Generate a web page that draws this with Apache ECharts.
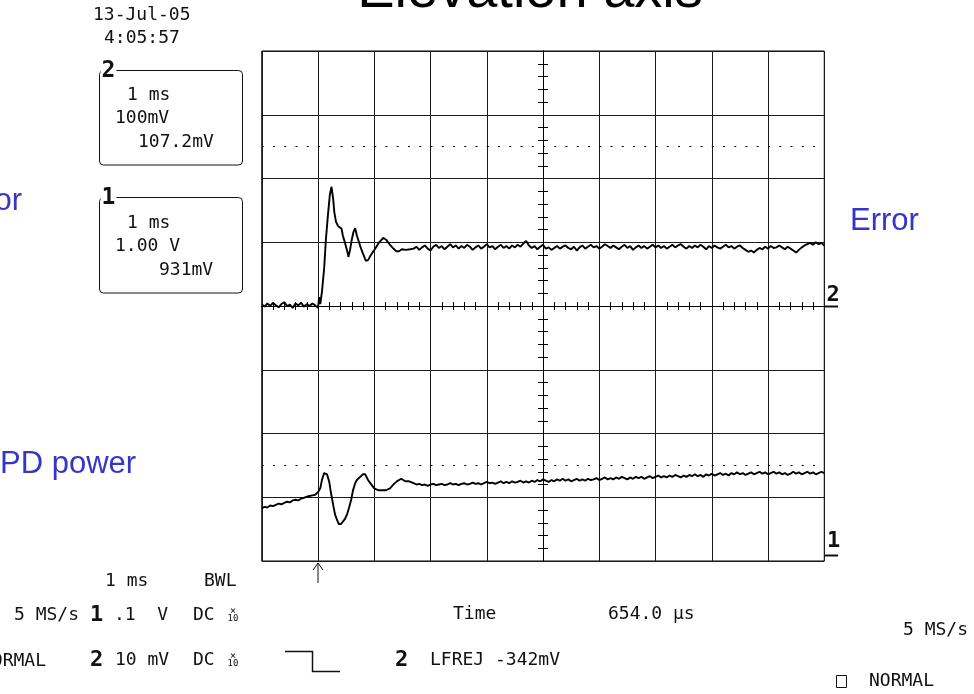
<!DOCTYPE html>
<html>
<head>
<meta charset="utf-8">
<script src="https://cdn.jsdelivr.net/npm/echarts@6/dist/echarts.min.js"></script>
<style>
html,body{margin:0;padding:0;background:#fff;}
#chart{width:974px;height:694px;}
</style>
</head>
<body>
<div id="chart"></div>
<script>
// ---- axis settings (time in ms after trigger, amplitude in screen divisions) ----
const timeRange = [-1, 9];
const divRange = [-4, 4];
const sampleStep = 0.05;           // ms between stored samples in the flat segments
const refLevels = [2.5, -2.5];     // dotted reference levels (divisions)

// ---- Channel 2 : Error ----
const errPreStart = -1.00;
const errPreV = [0.03,-0.01,0.04,0.00,0.05,0.01,-0.02,0.03,0.06,0.00,0.02,-0.03,0.04,0.01,0.05,-0.01,0.03,0.00,0.04,0.01];
const errTransT = [0.00,0.02,0.04,0.07,0.11,0.14,0.18,0.21,0.24,0.27,0.29,0.32,0.36,0.39,0.42,0.44,0.48,0.52,0.54,0.57,0.60,0.63,0.66,0.69,0.75,0.80,0.85,0.89,0.94,1.01,1.08,1.16,1.21,1.28,1.33,1.39,1.44,1.49,1.56,1.64];
const errTransV = [-0.03,0.14,0.03,0.22,0.60,1.04,1.46,1.74,1.87,1.68,1.47,1.32,1.25,1.25,1.21,1.11,0.99,0.86,0.77,0.88,1.04,1.16,1.22,1.11,0.94,0.82,0.71,0.72,0.80,0.89,0.99,1.07,1.04,0.96,0.91,0.86,0.86,0.89,0.88,0.89];
const errTailStart = 1.70;
const errTailV = [
0.90,0.93,0.88,0.92,0.95,0.90,0.87,0.93,0.96,0.91,
0.94,0.89,0.93,0.97,0.92,0.95,0.90,0.94,0.91,0.96,
0.93,0.88,0.92,0.95,0.90,0.93,0.97,0.92,0.94,0.89,
0.93,0.96,0.91,0.94,0.90,0.95,0.92,0.96,0.93,0.98,
1.02,0.95,0.91,0.94,0.89,0.93,0.96,0.90,0.92,0.88,
0.91,0.94,0.90,0.93,0.95,0.91,0.89,0.93,0.87,0.92,
0.95,0.90,0.93,0.96,0.92,0.94,0.90,0.93,0.97,0.94,
0.91,0.95,0.92,0.89,0.93,0.96,0.91,0.94,0.88,0.92,
0.95,0.91,0.94,0.90,0.93,0.96,0.92,0.95,0.91,0.94,
0.90,0.93,0.96,0.92,0.95,0.97,0.93,0.90,0.94,0.91,
0.95,0.92,0.96,0.93,0.89,0.94,0.91,0.95,0.92,0.90,
0.93,0.96,0.92,0.94,0.90,0.93,0.95,0.91,0.88,0.85,
0.87,0.84,0.88,0.91,0.89,0.93,0.90,0.94,0.91,0.92,
0.95,0.92,0.89,0.93,0.90,0.87,0.84,0.88,0.92,0.95,
0.97,0.99,0.96,1.00,0.97,0.99,0.95];

// ---- Channel 1 : PD power ----
const pdPreStart = -1.00;
const pdPreV = [-3.17,-3.15,-3.16,-3.13,-3.14,-3.12,-3.10,-3.11,-3.09,-3.07,-3.08,-3.05,-3.04,-3.05,-3.02,-3.01,-2.99,-2.98,-2.97,-2.96];
const pdTransT = [0.00,0.04,0.07,0.11,0.13,0.16,0.20,0.23,0.27,0.30,0.34,0.37,0.41,0.44,0.48,0.52,0.55,0.59,0.62,0.66,0.69,0.75,0.80,0.84,0.89,0.94,1.00,1.07,1.14,1.21,1.28,1.33,1.40,1.48,1.55,1.62];
const pdTransV = [-2.92,-2.86,-2.73,-2.62,-2.59,-2.64,-2.76,-2.93,-3.12,-3.26,-3.36,-3.42,-3.42,-3.39,-3.34,-3.26,-3.17,-3.04,-2.90,-2.78,-2.73,-2.68,-2.64,-2.64,-2.73,-2.79,-2.86,-2.89,-2.89,-2.89,-2.86,-2.81,-2.75,-2.71,-2.75,-2.75];
const pdTailStart = 1.70;
const pdTailV = [
-2.78,-2.80,-2.79,-2.81,-2.80,-2.82,-2.80,-2.79,-2.81,-2.80,
-2.79,-2.81,-2.80,-2.78,-2.80,-2.79,-2.81,-2.79,-2.78,-2.80,
-2.79,-2.77,-2.79,-2.78,-2.80,-2.78,-2.76,-2.78,-2.77,-2.79,
-2.77,-2.75,-2.78,-2.76,-2.78,-2.75,-2.77,-2.76,-2.74,-2.77,
-2.75,-2.77,-2.74,-2.76,-2.73,-2.75,-2.72,-2.74,-2.76,-2.73,
-2.75,-2.72,-2.74,-2.71,-2.74,-2.72,-2.75,-2.73,-2.71,-2.74,
-2.72,-2.74,-2.71,-2.73,-2.72,-2.70,-2.73,-2.71,-2.69,-2.72,
-2.70,-2.72,-2.69,-2.71,-2.68,-2.70,-2.72,-2.69,-2.71,-2.68,
-2.70,-2.68,-2.71,-2.69,-2.67,-2.70,-2.68,-2.66,-2.69,-2.67,
-2.69,-2.66,-2.68,-2.65,-2.67,-2.69,-2.66,-2.68,-2.65,-2.67,
-2.64,-2.67,-2.65,-2.68,-2.64,-2.66,-2.63,-2.66,-2.64,-2.62,
-2.65,-2.63,-2.66,-2.62,-2.64,-2.61,-2.64,-2.62,-2.65,-2.63,
-2.61,-2.64,-2.62,-2.60,-2.63,-2.61,-2.64,-2.62,-2.60,-2.63,
-2.61,-2.64,-2.62,-2.65,-2.63,-2.60,-2.63,-2.61,-2.64,-2.62,
-2.60,-2.63,-2.61,-2.64,-2.62,-2.60,-2.62];

// ---- helpers to assemble [time, value] pairs ----
function sampled(start, vals) {
  return vals.map((v, i) => [+(start + i * sampleStep).toFixed(3), v]);
}
function paired(ts, vs) { return ts.map((t, i) => [t, vs[i]]); }

const errData = [].concat(sampled(errPreStart, errPreV), paired(errTransT, errTransV), sampled(errTailStart, errTailV));
const pdData = [].concat(sampled(pdPreStart, pdPreV), paired(pdTransT, pdTransV), sampled(pdTailStart, pdTailV));

// ---- layout ----
const G = {left: 261.75, top: 51, width: 562.5, height: 510};
const MONO = "'DejaVu Sans Mono', monospace";
const SANS = "'Liberation Sans', Arial, sans-serif";
const INK = '#111';
const BLUE = '#3535c8';

function mono(text, x, y, opts) {
  opts = opts || {};
  return {type: 'text', x: x, y: y, z: 100, silent: true,
    style: {text: text, fill: INK, fontFamily: MONO, fontSize: opts.size || 18,
      fontWeight: opts.weight || 'normal', align: opts.align || 'left', verticalAlign: 'middle',
      backgroundColor: opts.bg, padding: opts.pad}};
}
function sans(text, x, y, size, color, align) {
  return {type: 'text', x: x, y: y, z: 100, silent: true,
    style: {text: text, fill: color, fontFamily: SANS, fontSize: size, align: align || 'left', verticalAlign: 'middle'}};
}
function line(points, w) {
  return {type: 'polyline', z: 100, silent: true, shape: {points: points},
    style: {stroke: INK, fill: 'none', lineWidth: w || 1}};
}
function x10(x, y) {
  return [mono('×', x + 5, y - 4, {size: 10, align: 'center'}), mono('10', x + 5, y + 4, {size: 9, align: 'center'})];
}

const graphics = [
  sans('Elevation axis', 530, -8, 56, '#000', 'center'),
  sans('Error', 22, 201, 31, BLUE, 'right'),
  sans('Error', 850, 221, 31, BLUE, 'left'),
  sans('PD power', 0, 464, 31, BLUE, 'left'),
  mono('13-Jul-05', 93, 15),
  mono('4:05:57', 104, 38.5),
  // channel 2 box
  {type: 'rect', z: 90, silent: true, shape: {x: 99.5, y: 70.5, width: 143, height: 94.5, r: 4}, style: {fill: 'none', stroke: INK, lineWidth: 1}},
  mono('2', 108.5, 71.5, {size: 23, weight: 'bold', align: 'center', bg: '#fff', pad: [0, 1]}),
  mono('1 ms', 127, 95),
  mono('100mV', 115, 118),
  mono('107.2mV', 138, 142.5),
  // channel 1 box
  {type: 'rect', z: 90, silent: true, shape: {x: 99.5, y: 197.5, width: 143, height: 95.5, r: 4}, style: {fill: 'none', stroke: INK, lineWidth: 1}},
  mono('1', 108.5, 198.5, {size: 23, weight: 'bold', align: 'center', bg: '#fff', pad: [0, 1]}),
  mono('1 ms', 127, 223.5),
  mono('1.00 V', 115, 246),
  mono('931mV', 159, 270),
  // channel ground markers
  mono('2', 833, 295.5, {size: 22, weight: 'bold', align: 'center'}),
  line([[825, 306.5], [838, 306.5]], 2),
  mono('1', 833.5, 541.5, {size: 22, weight: 'bold', align: 'center'}),
  line([[825, 555.5], [838, 555.5]], 2),
  // trigger arrow
  line([[318, 583], [318, 563]], 1),
  line([[313, 570], [318, 563], [323, 570]], 1),
  // bottom status lines
  mono('1 ms', 105, 581.5),
  mono('BWL', 204, 581.5),
  mono('5 MS/s', 14, 615),
  mono('1', 96.5, 615, {size: 22, weight: 'bold', align: 'center'}),
  mono('.1  V', 114, 615),
  mono('DC', 193, 615),
  mono('Time', 453, 614),
  mono('654.0 µs', 608, 614),
  mono('NORMAL', 46, 661, {align: 'right'}),
  mono('2', 96.5, 660, {size: 22, weight: 'bold', align: 'center'}),
  mono('10 mV', 115, 660),
  mono('DC', 193, 660),
  line([[285, 651.5], [312.5, 651.5], [312.5, 671.5], [340, 671.5]], 1.5),
  mono('2', 401.5, 660, {size: 22, weight: 'bold', align: 'center'}),
  mono('LFREJ -342mV', 430, 660),
  mono('5 MS/s', 903, 630),
  {type: 'rect', z: 100, silent: true, shape: {x: 836.5, y: 675.5, width: 10, height: 12}, style: {fill: 'none', stroke: INK, lineWidth: 1}},
  mono('NORMAL', 869, 681.5)
].concat(x10(228, 615), x10(228, 660));

const minorX = (pos, len) => ({
  type: 'value', min: timeRange[0], max: timeRange[1], interval: 1, position: pos,
  axisLine: {show: true, onZero: true, onZeroAxisIndex: 0, lineStyle: {color: '#000', width: 1}},
  axisTick: {show: false}, axisLabel: {show: false}, splitLine: {show: false},
  minorTick: {show: true, splitNumber: 5, length: len, lineStyle: {color: '#000', width: 1}}
});
const minorY = (pos, len) => ({
  type: 'value', min: divRange[0], max: divRange[1], interval: 1, position: pos, offset: -G.width / 2,
  axisLine: {show: true, onZero: false, lineStyle: {color: '#000', width: 1}},
  axisTick: {show: false}, axisLabel: {show: false}, splitLine: {show: false},
  minorTick: {show: true, splitNumber: 5, length: len, lineStyle: {color: '#000', width: 1}}
});

const chart = echarts.init(document.getElementById('chart'), null, {renderer: 'canvas'});
chart.setOption({
  animation: false,
  backgroundColor: '#fff',
  grid: {left: G.left, top: G.top, width: G.width, height: G.height, containLabel: false, outerBoundsMode: 'none',
    show: true, borderColor: '#000', borderWidth: 1, backgroundColor: 'transparent'},
  xAxis: [
    {type: 'value', min: timeRange[0], max: timeRange[1], interval: 1, position: 'bottom',
      axisLine: {show: false, onZero: false}, axisTick: {show: false}, axisLabel: {show: false},
      splitLine: {show: true, lineStyle: {color: '#1a1a1a', width: 1}}},
    minorX('bottom', 4),
    minorX('top', 4)
  ],
  yAxis: [
    {type: 'value', min: divRange[0], max: divRange[1], interval: 1, position: 'left',
      axisLine: {show: false, onZero: false}, axisTick: {show: false}, axisLabel: {show: false},
      splitLine: {show: true, lineStyle: {color: '#1a1a1a', width: 1}}},
    minorY('left', 5),
    minorY('right', 5)
  ],
  series: [
    {name: 'Error', type: 'line', xAxisIndex: 0, yAxisIndex: 0, data: errData, showSymbol: false, silent: true,
      lineStyle: {color: '#000', width: 1.9}, z: 5,
      markLine: {silent: true, symbol: ['none', 'none'], label: {show: false},
        lineStyle: {color: '#000', width: 1.2, type: [2, 9.25]},
        data: refLevels.map(v => ({yAxis: v}))}},
    {name: 'PD power', type: 'line', xAxisIndex: 0, yAxisIndex: 0, data: pdData, showSymbol: false, silent: true,
      lineStyle: {color: '#000', width: 1.9}, z: 5}
  ],
  graphic: {elements: graphics}
});
</script>
</body>
</html>
